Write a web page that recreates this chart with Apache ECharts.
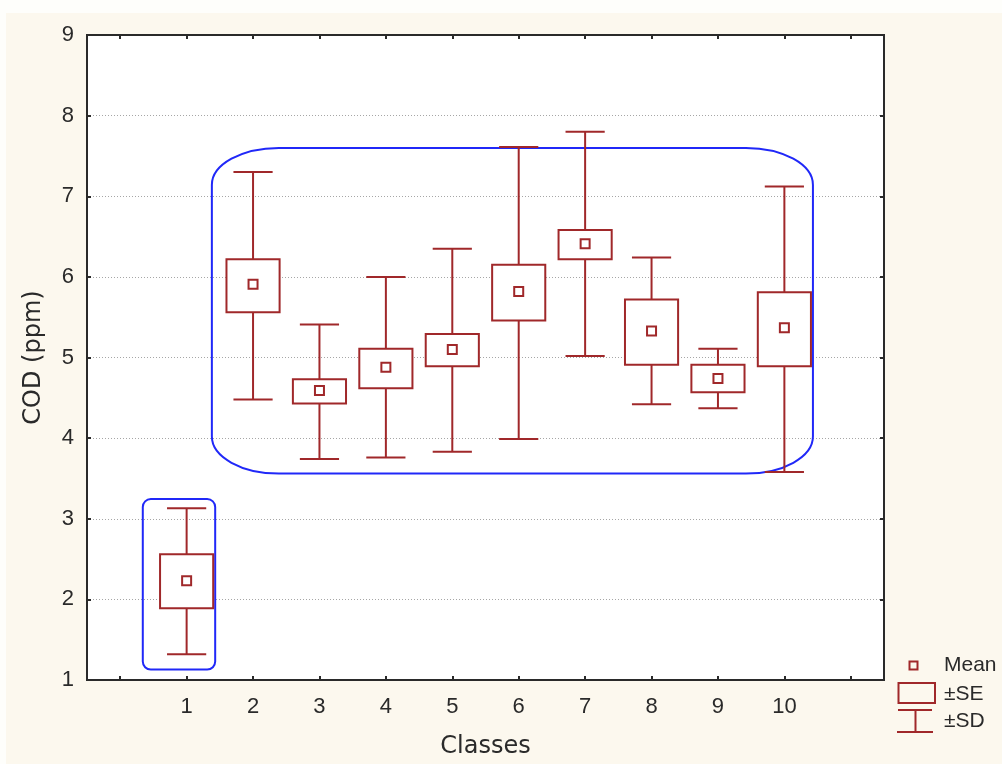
<!DOCTYPE html>
<html>
<head>
<meta charset="utf-8">
<script src="https://cdn.jsdelivr.net/npm/echarts@6/dist/echarts.min.js"></script>
<style>
  html, body { margin: 0; padding: 0; background: #fefefb; }
  #chart { width: 1002px; height: 764px; }
</style>
</head>
<body>
<div id="chart"></div>
<script>
// COD (ppm) per class: mean, ±standard error and ±standard deviation
const classes = ['1', '2', '3', '4', '5', '6', '7', '8', '9', '10'];
const mean   = [2.23, 5.91, 4.59, 4.88, 5.10, 5.82, 6.41, 5.33, 4.74, 5.37];
const seLow  = [1.89, 5.56, 4.43, 4.62, 4.89, 5.46, 6.22, 4.91, 4.57, 4.89];
const seHigh = [2.56, 6.22, 4.73, 5.11, 5.29, 6.15, 6.58, 5.72, 4.91, 5.81];
const sdLow  = [1.32, 4.48, 3.74, 3.76, 3.83, 3.99, 5.02, 4.42, 4.37, 3.58];
const sdHigh = [3.13, 7.30, 5.41, 6.00, 6.35, 7.61, 7.80, 6.24, 5.11, 7.12];
const yTicks = [1, 2, 3, 4, 5, 6, 7, 8, 9];

const MARK = '#a0282a';
const OUTLINE = '#2028f8';
const INK = '#2a2a2a';
const LABEL_FONT = 'Liberation Sans';
const NAME_FONT = 'DejaVu Sans';

// empty slots on each side give the axis its half-class margins and end ticks
const axisCats = [''].concat(classes, ['']);

// rounded outlines grouping the classes (class-position / COD extents, corner radii in px)
const groups = [
  { from: 0.34, to: 1.43, low: 1.13, high: 3.245, rx: 8, ry: 8 },
  { from: 1.38, to: 10.43, low: 3.56, high: 7.60, rx: 67, ry: 37 }
];

const rows = classes.map((c, i) => [i + 1, sdLow[i], seLow[i], mean[i], seHigh[i], sdHigh[i]]);

function roundedPath(x0, y0, x1, y1, rx, ry) {
  const k = 0.5523;
  const kx = rx * k, ky = ry * k;
  return [
    'M', x0 + rx, y0,
    'L', x1 - rx, y0,
    'C', x1 - rx + kx, y0, x1, y0 + ry - ky, x1, y0 + ry,
    'L', x1, y1 - ry,
    'C', x1, y1 - ry + ky, x1 - rx + kx, y1, x1 - rx, y1,
    'L', x0 + rx, y1,
    'C', x0 + rx - kx, y1, x0, y1 - ry + ky, x0, y1 - ry,
    'L', x0, y0 + ry,
    'C', x0, y0 + ry - ky, x0 + rx - kx, y0, x0 + rx, y0,
    'Z'
  ].join(' ');
}

const axisLineStyle = { show: true, lineStyle: { color: INK, width: 2 } };
const innerTick = { show: true, inside: true, length: 4, lineStyle: { color: INK, width: 2 } };

const option = {
  animation: false,
  backgroundColor: 'transparent',
  grid: {
    left: 87, right: 118, top: 35, bottom: 83,
    show: true, backgroundColor: '#ffffff', borderColor: INK, borderWidth: 2
  },
  xAxis: [
    {
      type: 'category', data: axisCats, position: 'bottom', boundaryGap: true,
      axisLine: axisLineStyle,
      axisTick: Object.assign({}, innerTick, { alignWithLabel: true, interval: 0 }),
      axisLabel: { interval: 0, margin: 16, fontSize: 22, color: INK, fontFamily: LABEL_FONT },
      splitLine: { show: false },
      name: 'Classes', nameLocation: 'middle', nameGap: 55,
      nameTextStyle: { fontSize: 24, color: INK, fontFamily: NAME_FONT }
    },
    {
      type: 'category', data: axisCats, position: 'top', boundaryGap: true,
      axisLine: axisLineStyle,
      axisTick: Object.assign({}, innerTick, { alignWithLabel: true, interval: 0 }),
      axisLabel: { show: false }, splitLine: { show: false }
    }
  ],
  yAxis: [
    {
      type: 'value', min: yTicks[0], max: yTicks[yTicks.length - 1], interval: 1,
      position: 'left',
      axisLine: axisLineStyle, axisTick: innerTick,
      axisLabel: { margin: 13, fontSize: 22, color: INK, fontFamily: LABEL_FONT },
      splitLine: { show: true, lineStyle: { type: [1, 2], color: '#a6a6a6', width: 1 } },
      name: 'COD (ppm)', nameLocation: 'middle', nameGap: 41,
      nameTextStyle: { fontSize: 24, color: INK, fontFamily: NAME_FONT }
    },
    {
      type: 'value', min: yTicks[0], max: yTicks[yTicks.length - 1], interval: 1,
      position: 'right',
      axisLine: axisLineStyle, axisTick: innerTick,
      axisLabel: { show: false }, splitLine: { show: false }
    }
  ],
  series: [
    {
      type: 'custom', name: 'groups', silent: true, z: 1,
      data: groups.map((g) => [Math.round(g.from), g.low]),
      encode: { x: 0, y: 1 },
      renderItem: function (params, api) {
        const g = groups[params.dataIndex];
        const band = api.size([1, 0])[0];
        // fractional class positions on the category axis
        const xAt = v => api.coord([Math.floor(v), g.low])[0] + (v - Math.floor(v)) * band;
        const x0 = xAt(g.from), x1 = xAt(g.to);
        const y0 = api.coord([1, g.high])[1], y1 = api.coord([1, g.low])[1];
        return {
          type: 'path',
          shape: { pathData: roundedPath(x0, y0, x1, y1, g.rx, g.ry) },
          style: { fill: 'none', stroke: OUTLINE, lineWidth: 2 }
        };
      }
    },
    {
      type: 'custom', name: 'COD', silent: true, z: 3,
      data: rows,
      encode: { x: 0, y: [1, 2, 3, 4, 5] },
      renderItem: function (params, api) {
        const x = api.value(0);
        const band = api.size([1, 0])[0];
        const boxW = band * 0.8;
        const capW = band * 0.59;
        const yy = v => api.coord([x, v])[1];
        const cx = api.coord([x, api.value(3)])[0];
        const yDl = yy(api.value(1)), yEl = yy(api.value(2)), yM = yy(api.value(3));
        const yEh = yy(api.value(4)), yDh = yy(api.value(5));
        const ls = { stroke: MARK, lineWidth: 2 };
        return {
          type: 'group',
          children: [
            { type: 'line', shape: { x1: cx, y1: yDl, x2: cx, y2: yEl }, style: ls },
            { type: 'line', shape: { x1: cx, y1: yEh, x2: cx, y2: yDh }, style: ls },
            { type: 'line', shape: { x1: cx - capW / 2, y1: yDl, x2: cx + capW / 2, y2: yDl }, style: ls },
            { type: 'line', shape: { x1: cx - capW / 2, y1: yDh, x2: cx + capW / 2, y2: yDh }, style: ls },
            { type: 'rect', shape: { x: cx - boxW / 2, y: yEh, width: boxW, height: yEl - yEh },
              style: { fill: '#ffffff', stroke: MARK, lineWidth: 2 } },
            { type: 'rect', shape: { x: cx - 4.5, y: yM - 4.5, width: 9, height: 9 },
              style: { fill: '#ffffff', stroke: MARK, lineWidth: 2 } }
          ]
        };
      }
    }
  ],
  graphic: [
    // page panel
    { type: 'rect', z: -10, silent: true, shape: { x: 6, y: 13, width: 996, height: 751 },
      style: { fill: '#fcf8ee' } },
    // key
    { type: 'rect', silent: true, shape: { x: 909.5, y: 661.5, width: 8, height: 8 },
      style: { fill: 'none', stroke: MARK, lineWidth: 2 } },
    { type: 'text', silent: true, x: 944, y: 665,
      style: { text: 'Mean', fontSize: 21, fontFamily: LABEL_FONT, fill: INK, verticalAlign: 'middle' } },
    { type: 'rect', silent: true, shape: { x: 898.5, y: 683, width: 36.5, height: 20 },
      style: { fill: 'none', stroke: MARK, lineWidth: 2 } },
    { type: 'text', silent: true, x: 944, y: 694,
      style: { text: '±SE', fontSize: 21, fontFamily: LABEL_FONT, fill: INK, verticalAlign: 'middle' } },
    { type: 'line', silent: true, shape: { x1: 898, y1: 710, x2: 932, y2: 710 },
      style: { stroke: MARK, lineWidth: 2 } },
    { type: 'line', silent: true, shape: { x1: 915.5, y1: 710, x2: 915.5, y2: 732 },
      style: { stroke: MARK, lineWidth: 2 } },
    { type: 'line', silent: true, shape: { x1: 897, y1: 732, x2: 933, y2: 732 },
      style: { stroke: MARK, lineWidth: 2 } },
    { type: 'text', silent: true, x: 944, y: 721,
      style: { text: '±SD', fontSize: 21, fontFamily: LABEL_FONT, fill: INK, verticalAlign: 'middle' } }
  ]
};

const chart = echarts.init(document.getElementById('chart'));
chart.setOption(option);
</script>
</body>
</html>
